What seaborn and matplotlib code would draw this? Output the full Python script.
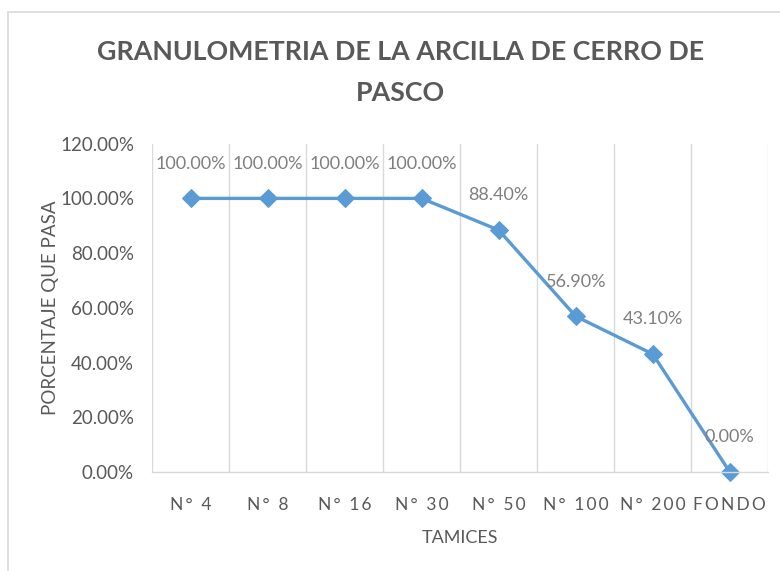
import matplotlib
matplotlib.use("Agg")
import matplotlib.pyplot as plt
import seaborn as sns
import pandas as pd
from matplotlib.patches import Rectangle
from matplotlib.ticker import FuncFormatter

# data
tamices = ["N° 4", "N° 8", "N° 16", "N° 30", "N° 50", "N° 100", "N° 200", "FONDO"]
pasa = [100.0, 100.0, 100.0, 100.0, 88.4, 56.9, 43.1, 0.0]
y_ticks = [0, 20, 40, 60, 80, 100, 120]

sns.set_style("white")
plt.rcParams['font.family'] = ['Lato', 'DejaVu Sans']

gray = "#595959"
label_gray = "#7F7F7F"
grid = "#D9D9D9"
blue = "#5B9BD5"


def spaced(s):
    # imitate the letter spacing of the original
    return "\u2009".join(s)


df = pd.DataFrame({"pos": range(len(tamices)), "pasa": pasa})

fig = plt.figure(figsize=(7.8, 5.71), dpi=100)
ax = fig.add_axes([0.195, 0.1734, 0.79, 0.575])

sns.lineplot(data=df, x="pos", y="pasa", ax=ax, color=blue, linewidth=2.4,
             marker="D", markersize=9, markeredgecolor=blue, clip_on=False)

ax.set_xlim(-0.5, len(tamices) - 0.5)
ax.set_ylim(0, 120)
ax.set_yticks(y_ticks)
ax.yaxis.set_major_formatter(FuncFormatter(lambda v, p: f"{v:.2f}%"))
ax.set_xticks(range(len(tamices)))
ax.set_xticklabels([spaced(t) for t in tamices])

# vertical gridlines on category boundaries
for b in range(len(tamices) + 1):
    ax.axvline(b - 0.5, color=grid, linewidth=1, zorder=0)

for s in ["top", "right", "left"]:
    ax.spines[s].set_visible(False)
ax.spines["bottom"].set_color(grid)
ax.spines["bottom"].set_linewidth(1)

ax.tick_params(axis="both", length=0, colors=gray)
ax.tick_params(axis="x", pad=18, labelsize=12.5)
ax.tick_params(axis="y", pad=13, labelsize=13.5)

for i, v in enumerate(pasa):
    ax.annotate(f"{v:.2f}%", (i, v), xytext=(0, 25), textcoords="offset points",
                ha="center", va="center", color=label_gray, fontsize=13)

ax.set_xlabel("TAMICES", color=gray, fontsize=13, labelpad=12)
ax.set_ylabel("PORCENTAJE QUE PASA", color=gray, fontsize=13.5, labelpad=1)

fig.text(0.513, 1 - 52 / 571, "GRANULOMETRIA DE LA ARCILLA DE CERRO DE",
         ha="center", va="center", fontsize=19.3, fontweight="bold", color=gray)
fig.text(0.513, 1 - 93 / 571, "PASCO",
         ha="center", va="center", fontsize=19.3, fontweight="bold", color=gray)

# chart border
fig.patches.append(Rectangle((8 / 780, -0.01), 1.0, 1 - 12 / 571 + 0.01,
                             transform=fig.transFigure, fill=False,
                             edgecolor=grid, linewidth=1.2))

fig.savefig("out.png", dpi=100)
